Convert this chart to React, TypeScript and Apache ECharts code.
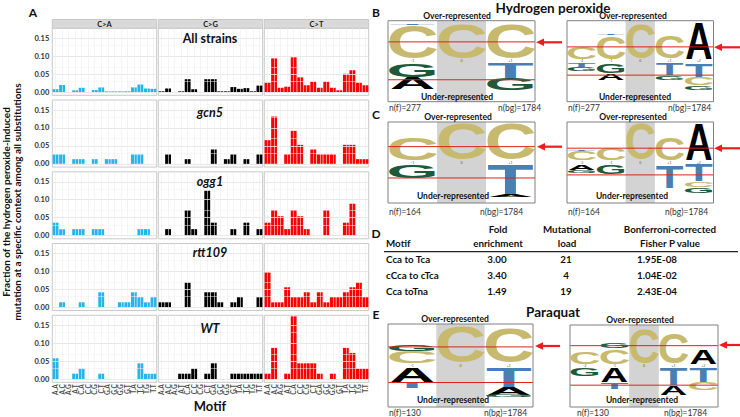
import React, { useEffect, useRef } from "react";
import * as echarts from "echarts";

// ---------------- data ----------------
const motifs = ["A.A","A.C","A.G","A.T","C.A","C.C","C.G","C.T","G.A","G.C","G.G","G.T","T.A","T.C","T.G","T.T"];
const substitutions = ["C>A", "C>G", "C>T"];
const strains = ["All strains", "gcn5", "ogg1", "rtt109", "WT"];
const yTicks = [0, 0.05, 0.1, 0.15];
const yMinorTicks = [0.025, 0.075, 0.125];

const allStrainsCA = [0.008,0.02,0,0.005,0.012,0,0.006,0.013,0.002,0.002,0.002,0.002,0.013,0.021,0.01,0.009];
const allStrainsCG = [0.002,0.01,0,0.002,0.036,0.008,0,0.036,0.036,0.002,0.002,0.014,0.009,0.011,0.002,0.018];
const allStrainsCT = [0.026,0.094,0.012,0.015,0.097,0.041,0.019,0.029,0.012,0.029,0.012,0.005,0.051,0.061,0.026,0.019];

const gcn5CA = [0.026,0.026,0,0.013,0.013,0,0.013,0,0.013,0.013,0,0,0.026,0.026,0,0];
const gcn5CG = [0,0.026,0,0,0.013,0,0,0,0.04,0,0.013,0.026,0,0.013,0,0.026];
const gcn5CT = [0.066,0.132,0,0.026,0.092,0.053,0,0.04,0.026,0.026,0.026,0,0.053,0.053,0.013,0.013];

const ogg1CA = [0.036,0.018,0,0.018,0.018,0,0.018,0.018,0,0,0,0,0,0.018,0.018,0];
const ogg1CG = [0,0.018,0,0,0.071,0.018,0,0.125,0.036,0,0,0.018,0,0.036,0,0.018];
const ogg1CT = [0.036,0.071,0.054,0.018,0.071,0.054,0.018,0,0,0.071,0,0,0.036,0.089,0,0];

const rtt109CA = [0,0.014,0,0,0.014,0,0,0.042,0,0,0.014,0.014,0.042,0.028,0.014,0.028];
const rtt109CG = [0.014,0.014,0,0,0.069,0,0,0.042,0.042,0.014,0,0.014,0.028,0,0,0.028];
const rtt109CT = [0.097,0.014,0.014,0.056,0.028,0.028,0.042,0.014,0.042,0.014,0.028,0.028,0.042,0.056,0.069,0.028];

const wtCA = [0.058,0,0,0.015,0.029,0,0,0.015,0,0,0,0,0,0.044,0.015,0.015];
const wtCG = [0,0,0,0.015,0.015,0.029,0,0.015,0.044,0,0,0.015,0.015,0.015,0.015,0.015];
const wtCT = [0.015,0.087,0,0.015,0.175,0.044,0.044,0.044,0.015,0,0.015,0,0.087,0.073,0.029,0.029];

const tableHeader1 = ["", "Fold", "Mutational", "Bonferroni-corrected"];
const tableHeader2 = ["Motif", "enrichment", "load", "Fisher P value"];
const tableMotif = ["Cca to Tca", "cCca to cTca", "Cca toTna"];
const foldEnrichment = ["3.00", "3.40", "1.49"];
const mutationalLoad = ["21", "4", "19"];
const fisherP = ["1.95E-08", "1.04E-02", "2.43E-04"];

// sequence logos: stacks (letter, fraction of half height), nearest the centre first
const logoB1Over = [[["C",0.88],["T",0.04]],[["C",0.93]],[["C",0.92]]];
const logoB1Under = [[["G",0.36],["A",0.31]],[],[["T",0.4],["G",0.3]]];
const logoB1Cut = [0.45, 0.43];
const logoB2Over = [[["C",0.3]],[["C",0.62],["T",0.04]],[["C",0.93]],[["C",0.6]],[["A",0.98]]];
const logoB2Under = [[["T",0.1],["G",0.1]],[["G",0.25],["A",0.18]],[],[["T",0.32],["G",0.12]],[["T",0.38],["C",0.2],["G",0.12]]];
const logoB2Cut = [0.32, 0.31];
const logoC1Over = [[["C",0.6]],[["C",0.95]],[["C",0.95]]];
const logoC1Under = [[["G",0.35]],[],[["T",0.78],["A",0.06]]];
const logoC1Cut = [0.36, 0.35];
const logoC2Over = [[["C",0.25],["T",0.03]],[["C",0.3]],[["C",0.95]],[["C",0.6]],[["A",0.98]]];
const logoC2Under = [[["A",0.15],["G",0.08]],[["G",0.25]],[],[["T",0.6]],[["T",0.45],["C",0.15],["G",0.15]]];
const logoC2Cut = [0.32, 0.27];
const logoE1Over = [[["C",0.3],["G",0.18]],[["C",0.95]],[["C",0.9]]];
const logoE1Under = [[["A",0.38],["T",0.15]],[],[["T",0.5],["A",0.2],["G",0.05]]];
const logoE1Cut = [0.42, 0.38];
const logoE2Over = [[["C",0.3]],[["C",0.4],["G",0.12]],[["C",0.92]],[["C",0.8]],[["A",0.38]]];
const logoE2Under = [[["G",0.22]],[["A",0.38],["T",0.15]],[],[["T",0.45],["A",0.25]],[["T",0.38],["C",0.2]]];
const logoE2Cut = [0.47, 0.44];

// ---------------- styles / layout ----------------
const FONT = "Lato, 'Open Sans', sans-serif";
const subColors = ["#27b4ea", "#000000", "#ff0000"];
const letterColors: any = { A: "#000000", C: "#c7ba6f", G: "#1d5a3b", T: "#4a7fb4" };
const letterWidthEm: any = { A: 0.72, C: 0.63, G: 0.68, T: 0.6 };
const letterHeightEm: any = { A: 0.716, C: 0.74, G: 0.74, T: 0.716 };

const colLeft = [52.3, 158.3, 264.3];
const colW = 104.4;
const rowTop0 = 28.3;
const rowStep = 71.75;
const rowH = 67;
const strainLabelY = [38, 112, 181, 252, 328];

function txt(text: string, x: number, y: number, size: number, o: any = {}) {
  return {
    type: "text", x, y, z: o.z ?? 10, rotation: o.rotation ?? 0, silent: true,
    style: {
      text, fontSize: size, fontWeight: o.weight ?? "bold", fontStyle: o.italic ? "italic" : "normal",
      fontFamily: o.family ?? FONT, fill: o.color ?? "#111", align: o.align ?? "center", verticalAlign: "middle",
    },
  };
}

function letter(L: string, cx: number, cy: number, w: number, h: number) {
  const F = 40;
  return {
    type: "text", x: cx, y: cy, z: 4, silent: true,
    scaleX: w / (letterWidthEm[L] * F), scaleY: h / (letterHeightEm[L] * F),
    style: { text: L, fontSize: F, fontWeight: "bold", fontFamily: "'Liberation Sans', Arial, sans-serif",
      fill: letterColors[L], align: "center", verticalAlign: "middle" },
  };
}

function logo(box: any, over: any[], under: any[], cut: number[]) {
  const els: any[] = [];
  const n = box.labels.length;
  const cw = box.w / n;
  const strip = 4;
  const half = (box.h - strip) / 2;
  const stripTop = box.y + half;
  const stripBottom = stripTop + strip;
  els.push({ type: "rect", z: 2, silent: true, shape: { x: box.x + box.gray * cw, y: box.y, width: cw, height: box.h }, style: { fill: "#d3d3d3" } });
  over.forEach((stack: any[], i: number) => {
    let base = stripTop;
    stack.forEach(([L, f]: any) => {
      const hh = f * half;
      els.push(letter(L, box.x + (i + 0.5) * cw, base - hh / 2, cw * 0.93, hh));
      base -= hh;
    });
  });
  under.forEach((stack: any[], i: number) => {
    let base = stripBottom;
    stack.forEach(([L, f]: any) => {
      const hh = f * half;
      els.push(letter(L, box.x + (i + 0.5) * cw, base + hh / 2, cw * 0.93, hh));
      base += hh;
    });
  });
  box.labels.forEach((lb: string, i: number) => {
    els.push(txt(lb, box.x + (i + 0.5) * cw, stripTop + strip / 2, 3.5, { weight: "normal", color: "#555" }));
  });
  const yTop = stripTop - cut[0] * half;
  const yBot = stripBottom + cut[1] * half;
  [yTop, yBot].forEach((yy) => {
    els.push({ type: "line", z: 6, silent: true, shape: { x1: box.x, y1: yy, x2: box.x + box.w, y2: yy }, style: { stroke: "#e0201b", lineWidth: 1 } });
  });
  els.push({ type: "rect", z: 7, silent: true, shape: { x: box.x, y: box.y, width: box.w, height: box.h }, style: { fill: "none", stroke: "#808080", lineWidth: 1 } });
  return els;
}

function arrow(x1: number, x2: number, y: number) {
  return [
    { type: "line", z: 8, silent: true, shape: { x1, y1: y, x2: x2 + 6, y2: y }, style: { stroke: "#ee1c1c", lineWidth: 2.2 } },
    { type: "polygon", z: 8, silent: true, shape: { points: [[x2, y], [x2 + 8, y - 3.8], [x2 + 8, y + 3.8]] }, style: { fill: "#ee1c1c" } },
  ];
}

function buildOption() {
  const valueRows = [
    [allStrainsCA, allStrainsCG, allStrainsCT],
    [gcn5CA, gcn5CG, gcn5CT],
    [ogg1CA, ogg1CG, ogg1CT],
    [rtt109CA, rtt109CG, rtt109CT],
    [wtCA, wtCG, wtCT],
  ];
  const grid: any[] = [], xAxis: any[] = [], yAxis: any[] = [], series: any[] = [];
  for (let r = 0; r < 5; r++) {
    for (let c = 0; c < 3; c++) {
      const idx = r * 3 + c;
      grid.push({ left: colLeft[c], top: rowTop0 + r * rowStep, width: colW, height: rowH, show: true,
        backgroundColor: "#ffffff", borderColor: "#c8c8c8", borderWidth: 1 });
      xAxis.push({ type: "category", gridIndex: idx, data: motifs, boundaryGap: true,
        axisLine: { show: false }, axisTick: { show: false }, splitLine: { show: false },
        axisLabel: { show: r === 4, rotate: 90, interval: 0, fontSize: 6.5, color: "#4d4d4d", margin: 2, fontFamily: FONT, fontWeight: "bold" } });
      yAxis.push({ type: "value", gridIndex: idx, min: -0.009, max: 0.178, minInterval: 0.05, maxInterval: 0.05,
        axisLine: { show: false }, axisTick: { show: false }, splitLine: { show: false },
        axisLabel: { show: c === 0, showMinLabel: false, showMaxLabel: false, fontSize: 7.5, fontWeight: "bold", color: "#333", margin: 3, fontFamily: FONT,
          formatter: (v: number) => (yTicks.some((t) => Math.abs(t - v) < 1e-9) ? v.toFixed(2) : "") } });
      series.push({ type: "line", xAxisIndex: idx, yAxisIndex: idx, data: [], z: 1, silent: true,
        markLine: { silent: true, symbol: "none", animation: false, label: { show: false },
          data: [
            ...yTicks.map((v) => ({ yAxis: v, lineStyle: { color: "#e2e2e2", width: 0.8, type: "solid" } })),
            ...yMinorTicks.map((v) => ({ yAxis: v, lineStyle: { color: "#f1f1f1", width: 0.5, type: "solid" } })),
            ...motifs.map((m) => ({ xAxis: m, lineStyle: { color: "#ececec", width: 0.6, type: "solid" } })),
          ] } });
      series.push({ type: "bar", xAxisIndex: idx, yAxisIndex: idx, data: valueRows[r][c], z: 2, silent: true,
        barCategoryGap: "10%", itemStyle: { color: subColors[c] } });
    }
  }

  const g: any[] = [];
  g.push(txt("A", 33, 12.5, 12));
  substitutions.forEach((s, c) => {
    g.push({ type: "rect", z: 5, silent: true, shape: { x: colLeft[c], y: 19.5, width: colW, height: 8.8 }, style: { fill: "#d9d9d9", stroke: "#c8c8c8", lineWidth: 1 } });
    g.push(txt(s, colLeft[c] + colW / 2, 24, 7.5, { color: "#1a1a1a" }));
  });
  strains.forEach((s, r) => {
    g.push(txt(s, 210, strainLabelY[r], 12.5, { italic: r > 0, z: 12 }));
  });
  g.push(txt("Fraction of the hydrogen peroxide-induced", 5.5, 202, 10, { rotation: Math.PI / 2 }));
  g.push(txt("mutation at a specific context among all substitutions", 16.5, 202, 10, { rotation: Math.PI / 2 }));
  g.push(txt("Motif", 210, 406, 13));

  // right side
  g.push(txt("B", 376, 12, 12));
  g.push(txt("C", 376, 114, 12));
  g.push(txt("D", 376, 233, 12));
  g.push(txt("E", 376, 314, 12));
  g.push(txt("Hydrogen peroxide", 553, 7.5, 13.5));
  g.push(txt("Paraquat", 553, 312, 13.5));

  const labels3 = ["-1", "0", "+1"];
  const labels5 = ["-2", "-1", "0", "+1", "+2"];
  g.push(...logo({ x: 388, y: 20.7, w: 147, h: 81, labels: labels3, gray: 1 }, logoB1Over, logoB1Under, logoB1Cut));
  g.push(...logo({ x: 567, y: 20.7, w: 146.5, h: 81, labels: labels5, gray: 2 }, logoB2Over, logoB2Under, logoB2Cut));
  g.push(...logo({ x: 388, y: 122, w: 147, h: 81, labels: labels3, gray: 1 }, logoC1Over, logoC1Under, logoC1Cut));
  g.push(...logo({ x: 567, y: 122, w: 146.5, h: 81, labels: labels5, gray: 2 }, logoC2Over, logoC2Under, logoC2Cut));
  g.push(...logo({ x: 388, y: 324, w: 145, h: 83, labels: labels3, gray: 1 }, logoE1Over, logoE1Under, logoE1Cut));
  g.push(...logo({ x: 570, y: 325, w: 148, h: 82, labels: labels5, gray: 2 }, logoE2Over, logoE2Under, logoE2Cut));

  const ov = (x: number, y: number) => txt("Over-represented", x, y, 8.5, { z: 12 });
  const un = (x: number, y: number) => txt("Under-represented", x, y, 8.5, { z: 12 });
  g.push(ov(457, 15.7), ov(633, 15.7), ov(458, 117), ov(633, 117), ov(455, 319), ov(640, 320));
  g.push(un(457, 96.7), un(635, 96.7), un(453, 196), un(632, 196), un(453, 399.5), un(642, 400));

  const nl = (t: string, x: number, y: number) => txt(t, x, y, 8.5, { weight: "normal", align: "left", color: "#333" });
  g.push(nl("n(f)=277", 389, 108), nl("n(bg)=1784", 498, 108), nl("n(f)=277", 568, 108), nl("n(bg)=1784", 668, 108));
  g.push(nl("n(f)=164", 389, 212), nl("n(bg)=1784", 480, 212), nl("n(f)=164", 568, 212), nl("n(bg)=1784", 665, 212));
  g.push(nl("n(f)=130", 389, 412.5), nl("n(bg)=1784", 484, 412.5), nl("n(f)=130", 577, 412.5), nl("n(bg)=1784", 664, 412.5));

  g.push(...arrow(562, 536, 42.3), ...arrow(740, 714, 47.3), ...arrow(562, 537, 146.7), ...arrow(740, 714, 148.3), ...arrow(560, 535, 346), ...arrow(740, 719, 345));

  // table D
  const hx = [386, 498, 567, 670];
  tableHeader1.forEach((t, i) => { if (t) g.push(txt(t, hx[i], 228.5, 9.8)); });
  tableHeader2.forEach((t, i) => g.push(txt(t, hx[i], 242.5, 9.8, { align: i === 0 ? "left" : "center" })));
  g.push({ type: "line", z: 6, silent: true, shape: { x1: 384, y1: 251.7, x2: 738, y2: 251.7 }, style: { stroke: "#222", lineWidth: 1.2 } });
  const rowY = [258.5, 274.5, 290.5];
  tableMotif.forEach((t, i) => {
    g.push(txt(t, 386, rowY[i], 9.8, { align: "left" }));
    g.push(txt(foldEnrichment[i], 497, rowY[i], 9.8));
    g.push(txt(mutationalLoad[i], 566, rowY[i], 9.8));
    g.push(txt(fisherP[i], 657, rowY[i], 9.8));
  });

  return { animation: false, backgroundColor: "#ffffff", grid, xAxis, yAxis, series, graphic: { elements: g } };
}

export default function App() {
  const ref = useRef<HTMLDivElement>(null);
  useEffect(() => {
    const chart = echarts.init(ref.current as HTMLDivElement, null, { renderer: "svg", width: 740, height: 417 });
    chart.setOption(buildOption() as any);
    return () => chart.dispose();
  }, []);
  return <div ref={ref} style={{ position: "absolute", left: 0, top: 0, width: 740, height: 417, background: "#fff" }} />;
}
